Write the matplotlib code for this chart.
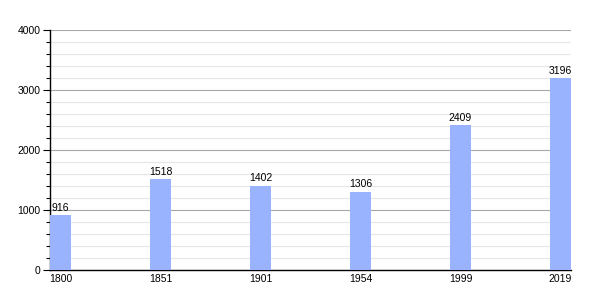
import numpy as np
import matplotlib
matplotlib.use('Agg')
from matplotlib import pyplot as plt
from matplotlib.ticker import MultipleLocator

# Data
years = ['1800', '1851', '1901', '1954', '1999', '2019']
population = [916, 1518, 1402, 1306, 2409, 3196]

plt.rcParams['font.family'] = ['Liberation Sans', 'DejaVu Sans']

fig = plt.figure(figsize=(6, 3), dpi=100)
ax = fig.add_axes([50/600, 30/300, 521/600, 240/300])

x = np.arange(len(years))
width = 0.21
bars = ax.bar(x, population, width=width, align='edge', color='#99b3ff', zorder=3)

for xi, v in zip(x, population):
    ax.text(xi + width/2, v + 40, str(v), ha='center', va='bottom', fontsize=7.5, zorder=4)

ax.set_xlim(0, 5.21)
ax.set_ylim(0, 4000)
ax.set_xticks(x + width/2)
ax.set_xticklabels(years, fontsize=7.5)
ax.tick_params(axis='x', length=0, pad=3)

ax.yaxis.set_major_locator(MultipleLocator(1000))
ax.yaxis.set_minor_locator(MultipleLocator(200))
ax.tick_params(axis='y', which='major', length=5, width=0.8, labelsize=7.5, pad=2)
ax.tick_params(axis='y', which='minor', length=3, width=0.8)

ax.grid(axis='y', which='major', color='#a8a8a8', linewidth=0.8, zorder=0)
ax.grid(axis='y', which='minor', color='#e6e6e6', linewidth=0.8, zorder=0)

for s in ['top', 'right']:
    ax.spines[s].set_visible(False)
ax.spines['left'].set_linewidth(1)
ax.spines['bottom'].set_linewidth(1)

plt.savefig('out.png', dpi=100)
